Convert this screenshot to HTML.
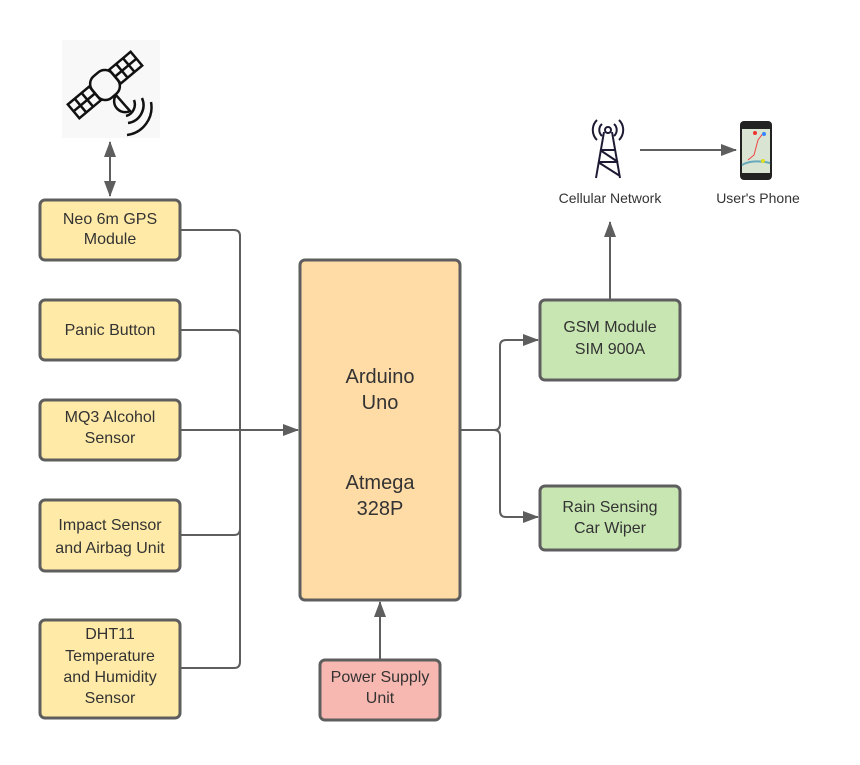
<!DOCTYPE html>
<html><head><style>
body{margin:0;background:#fff}
svg text{font-family:"Liberation Sans",sans-serif;fill:#333}
</style></head><body>
<svg width="860" height="760" viewBox="0 0 860 760" xmlns="http://www.w3.org/2000/svg">
<defs>
<marker id="a" markerWidth="16" markerHeight="12" refX="15" refY="6" orient="auto" markerUnits="userSpaceOnUse"><path d="M0,0 L16,6 L0,12 z" fill="#5e5e5e"/></marker>
<marker id="as" markerWidth="16" markerHeight="12" refX="1" refY="6" orient="auto" markerUnits="userSpaceOnUse"><path d="M16,0 L0,6 L16,12 z" fill="#5e5e5e"/></marker>
</defs>
<!-- satellite -->
<rect x="62" y="40" width="98" height="98" fill="#f8f8f8"/>
<g fill="none" stroke="#111" stroke-width="2.5">
<g transform="rotate(-40 105 85)">
<rect x="64" y="76" width="28" height="18"/><line x1="73" y1="76" x2="73" y2="94"/><line x1="82" y1="76" x2="82" y2="94"/><line x1="64" y1="85" x2="92" y2="85"/>
<rect x="118" y="76" width="28" height="18"/><line x1="127" y1="76" x2="127" y2="94"/><line x1="136" y1="76" x2="136" y2="94"/><line x1="118" y1="85" x2="146" y2="85"/>
<rect x="92" y="71" width="26" height="28" rx="10"/>
</g>
<path d="M116 95 a11 11 0 0 0 14 16 z"/>
<path d="M134 100 a12 12 0 0 1 -8 16"/><path d="M142 98 a18 18 0 0 1 -14 25"/><path d="M151 102 a28 28 0 0 1 -24 33"/>
</g>
<line x1="110" y1="142" x2="110" y2="196" stroke="#5e5e5e" stroke-width="2" marker-start="url(#as)" marker-end="url(#a)"/>
<!-- tower -->
<g fill="none" stroke="#1e1a33" stroke-width="2">
<path d="M604 132 L596 178 M612 132 L620 178 M600 150 L616 150 M598 162 L618 162 M600 150 L618 162 M598 162 L620 176"/>
<circle cx="608" cy="130" r="3"/>
<path d="M602 124 a8 8 0 0 0 0 12 M614 124 a8 8 0 0 1 0 12 M597 120 a14 14 0 0 0 0 20 M619 120 a14 14 0 0 1 0 20"/>
</g>
<text x="610" y="203" font-size="14" text-anchor="middle">Cellular Network</text>
<line x1="640" y1="150" x2="736" y2="150" stroke="#5e5e5e" stroke-width="2" marker-end="url(#a)"/>
<!-- phone -->
<rect x="740" y="121" width="32" height="59" rx="4" fill="#222"/>
<rect x="742" y="129" width="28" height="44" fill="#d9e4d2"/>
<path d="M748 160 l6 -5 l4 -15 l6 -8" stroke="#e44" fill="none"/>
<path d="M742 165 q10 -6 28 -2" stroke="#6ab" stroke-width="2" fill="none"/>
<circle cx="755" cy="133" r="2" fill="#e33"/><circle cx="764" cy="134" r="2" fill="#38f"/><circle cx="763" cy="161" r="2" fill="#dd2"/>
<text x="758" y="203" font-size="14" text-anchor="middle">User's Phone</text>
<!-- connectors -->
<g fill="none" stroke="#5e5e5e" stroke-width="2">
<path d="M180 230 H234 q6 0 6 6 V430"/>
<path d="M180 330 H234 q6 0 6 6 V430"/>
<path d="M180 535 H234 q6 0 6 -6 V430"/>
<path d="M180 668 H234 q6 0 6 -6 V430"/>
<path d="M180 430 H298" marker-end="url(#a)"/>
<path d="M460 430 H494 q6 0 6 -6 V346 q0 -6 6 -6 H538" marker-end="url(#a)"/>
<path d="M494 430 q6 0 6 6 V511 q0 6 6 6 H538" marker-end="url(#a)"/>
<path d="M380 660 V602" marker-end="url(#a)"/>
<path d="M610 300 V222" marker-end="url(#a)"/>
</g>
<!-- boxes -->
<g stroke="#5e5e5e" stroke-width="3">
<rect x="40" y="200" width="140" height="60" rx="5" fill="#ffeaa7"/>
<rect x="40" y="300" width="140" height="60" rx="5" fill="#ffeaa7"/>
<rect x="40" y="400" width="140" height="60" rx="5" fill="#ffeaa7"/>
<rect x="40" y="500" width="140" height="71" rx="5" fill="#ffeaa7"/>
<rect x="40" y="620" width="140" height="98" rx="5" fill="#ffeaa7"/>
<rect x="300" y="260" width="160" height="340" rx="5" fill="#ffdba6"/>
<rect x="540" y="300" width="140" height="80" rx="5" fill="#c8e6b2"/>
<rect x="540" y="486" width="140" height="64" rx="5" fill="#c8e6b2"/>
<rect x="320" y="660" width="120" height="60" rx="5" fill="#f8b8b2"/>
</g>
<g font-size="16" text-anchor="middle">
<text x="110" y="224">Neo 6m GPS</text><text x="110" y="244">Module</text>
<text x="110" y="335">Panic Button</text>
<text x="110" y="422">MQ3 Alcohol</text><text x="110" y="443">Sensor</text>
<text x="110" y="530">Impact Sensor</text><text x="110" y="553">and Airbag Unit</text>
<text x="110" y="639">DHT11</text><text x="110" y="661">Temperature</text><text x="110" y="682">and Humidity</text><text x="110" y="703">Sensor</text>
<text x="610" y="332">GSM Module</text><text x="610" y="354">SIM 900A</text>
<text x="610" y="512">Rain Sensing</text><text x="610" y="533">Car Wiper</text>
<text x="380" y="682">Power Supply</text><text x="380" y="703">Unit</text>
</g>
<g font-size="20" text-anchor="middle">
<text x="380" y="383">Arduino</text><text x="380" y="409">Uno</text>
<text x="380" y="489">Atmega</text><text x="380" y="515">328P</text>
</g>
</svg>
</body></html>
